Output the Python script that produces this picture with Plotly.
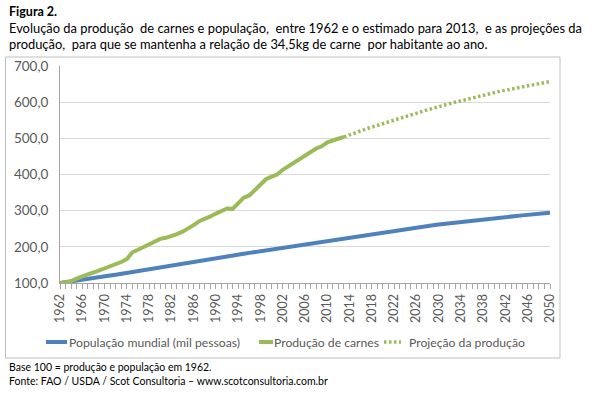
import plotly.graph_objects as go

# ---------------- data ----------------
anos = list(range(1962, 2051))

populacao = [
    100.0, 102.0, 104.2, 106.4, 108.7, 111.0, 113.3, 115.7, 118.1, 120.5,
    122.9, 125.3, 127.7, 130.1, 132.4, 134.8, 137.2, 139.6, 142.0, 144.5,
    147.0, 149.6, 152.2, 154.8, 157.4, 160.1, 162.8, 165.5, 168.2, 170.8,
    173.3, 175.8, 178.3, 180.8, 183.3, 185.7, 188.1, 190.5, 192.9, 195.3,
    197.7, 200.1, 202.5, 204.9, 207.3, 209.7, 212.1, 214.6, 217.0, 219.4,
    221.8, 224.2, 226.6, 229.0, 231.4, 233.7, 236.0, 238.3, 240.5, 242.7,
    244.9, 247.1, 249.2, 251.3, 253.4, 255.5, 257.5, 259.5, 261.5, 263.4,
    265.3, 267.2, 269.0, 270.8, 272.6, 274.3, 276.0, 277.7, 279.3, 280.9,
    282.5, 284.0, 285.5, 287.0, 288.6, 290.1, 291.6, 293.1, 294.5,
]

anos_producao = list(range(1962, 2014))
producao = [
    100, 102, 105, 112, 119, 124, 129, 135, 140, 146,
    151, 158, 166, 185, 192, 199, 206, 214, 222, 225,
    229, 235, 242, 250, 260, 271, 277, 284, 292, 300,
    306, 305, 322, 336, 342, 357, 373, 387, 394, 400,
    413, 423, 432, 442, 452, 462, 472, 478, 489, 494,
    499, 504,
]

anos_projecao = list(range(2013, 2051))
projecao = [
    504, 510, 515, 521, 526, 531, 536, 541, 546, 551,
    556, 561, 565, 570, 574, 579, 583, 588, 592, 596,
    600, 604, 608, 612, 616, 619, 623, 626, 630, 633,
    636, 639, 642, 645, 648, 651, 654, 657,
]

nomes = ["População mundial (mil pessoas)", "Produção de carnes", "Projeção da produção"]

y_ticks = [100, 200, 300, 400, 500, 600, 700]
x_ticks = list(range(1962, 2051, 4))

# ---------------- layout constants ----------------
W, H = 592, 395
L, R, T, B = 60, 42, 66, 112
PW, PH = W - L - R, H - T - B

def px_x(p):
    return (p - L) / PW

def px_y(p):
    return (H - B - p) / PH

FONT = "Lato, 'Open Sans', sans-serif"
BLUE = "#4F81BD"
GREEN = "#9BBB59"
GRAY_TXT = "#595959"
DOT = "2.5px,2.5px"

fig = go.Figure()

fig.add_trace(go.Scatter(
    x=anos, y=populacao, mode="lines", name=nomes[0],
    line=dict(color=BLUE, width=4), showlegend=False,
))
fig.add_trace(go.Scatter(
    x=anos_producao, y=producao, mode="lines", name=nomes[1],
    line=dict(color=GREEN, width=4), showlegend=False,
))
fig.add_trace(go.Scatter(
    x=anos_projecao, y=projecao, mode="lines", name=nomes[2],
    line=dict(color=GREEN, width=3.5, dash=DOT), showlegend=False,
))

fig.update_layout(
    width=W, height=H, autosize=False,
    margin=dict(l=L, r=R, t=T, b=B, pad=0),
    paper_bgcolor="white", plot_bgcolor="white",
    separators=",.",
    font=dict(family=FONT, size=12, color=GRAY_TXT),
    showlegend=False,
    xaxis=dict(
        range=[1962, 2050], tickmode="array", tickvals=x_ticks,
        ticktext=[str(a) for a in x_ticks], tickangle=-90,
        ticks="outside", ticklen=5, tickcolor="#A6A6A6",
        showline=True, linecolor="#A6A6A6", linewidth=1,
        showgrid=False, zeroline=False,
        tickfont=dict(family=FONT, size=12.5, color=GRAY_TXT),
        minor=dict(ticks="outside", dtick=1, tick0=1962, ticklen=5,
                   tickcolor="#A6A6A6", showgrid=False),
    ),
    yaxis=dict(
        range=[100, 700], tickmode="array", tickvals=y_ticks,
        tickformat=".1f",
        showline=True, linecolor="#A6A6A6", linewidth=1,
        showgrid=True, gridcolor="#D9D9D9", gridwidth=1,
        zeroline=False, ticks="", ticklabelstandoff=8,
        tickfont=dict(family=FONT, size=13.5, color=GRAY_TXT),
    ),
)

# chart frame
fig.add_shape(
    type="rect", xref="paper", yref="paper",
    x0=px_x(5.5), x1=px_x(560), y0=px_y(358), y1=px_y(57),
    line=dict(color="#BFBFBF", width=1), fillcolor="rgba(0,0,0,0)",
    layer="below",
)

def txt(text, x, y, size=12, bold=False, color="black"):
    fig.add_annotation(
        text=f"<b>{text}</b>" if bold else text,
        xref="paper", yref="paper", x=px_x(x), y=px_y(y),
        xanchor="left", yanchor="middle", showarrow=False,
        font=dict(family=FONT, size=size, color=color), align="left",
    )

# manual legend (one row, like the reference)
legend_items = [
    (nomes[0], BLUE, None, 46, 67, 67),
    (nomes[1], GREEN, None, 259, 273, 272),
    (nomes[2], GREEN, DOT, 384, 401, 407),
]
LEG_Y = 342
for nome, cor, dash, lx0, lx1, tx in legend_items:
    fig.add_shape(
        type="line", xref="paper", yref="paper",
        x0=px_x(lx0), x1=px_x(lx1), y0=px_y(LEG_Y), y1=px_y(LEG_Y),
        line=dict(color=cor, width=3.5 if dash else 4, dash=dash or "solid"),
    )
    txt(nome, tx, LEG_Y, size=12.2, color=GRAY_TXT)

txt("Figura 2.", 7, 12, size=12.5, bold=True)
txt("Evolução da produção  de carnes e população,  entre 1962 e o estimado para 2013,  e as projeções da",
    7, 28, size=12.9)
txt("produção,  para que se mantenha a relação de 34,5kg de carne  por habitante ao ano.",
    7, 44, size=12.9)
txt("Base 100 = produção e população em 1962.", 7, 367, size=10.5)
txt("Fonte: FAO / USDA / Scot Consultoria – www.scotconsultoria.com.br", 7, 381, size=10.5)

fig.write_html(
    "out.html",
    config={"displayModeBar": False, "staticPlot": True},
    post_script="document.body.style.margin='0';document.body.style.overflow='hidden';",
)
